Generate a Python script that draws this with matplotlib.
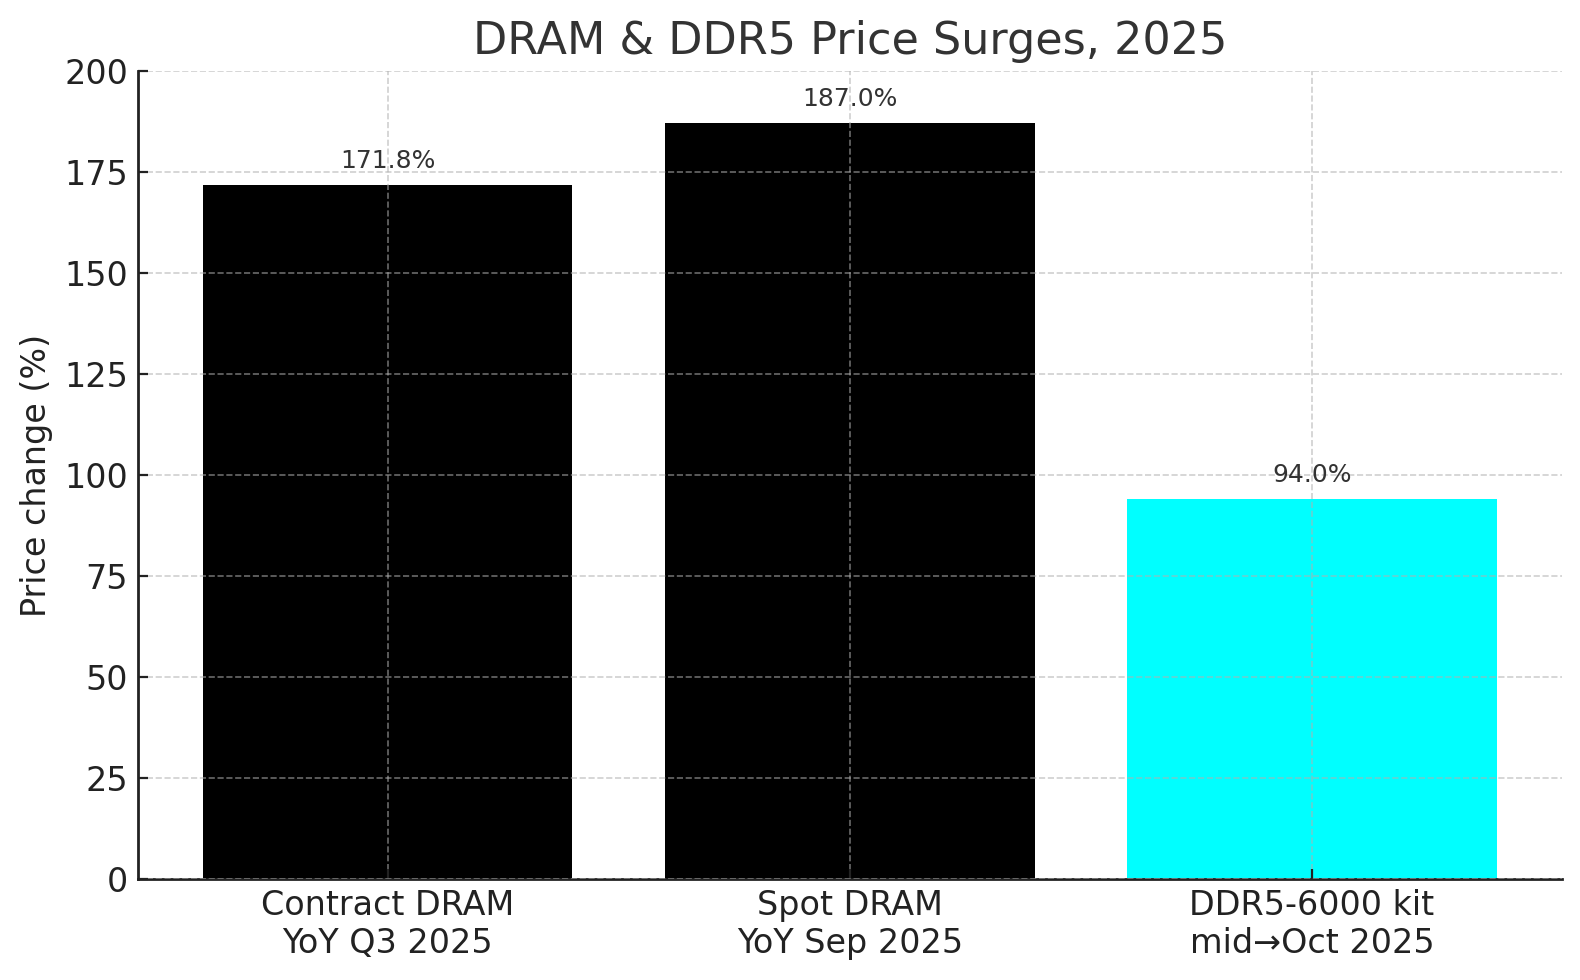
import matplotlib
matplotlib.use("Agg")
import matplotlib.pyplot as plt

categories = ["Contract DRAM\nYoY Q3 2025", "Spot DRAM\nYoY Sep 2025", "DDR5-6000 kit\nmid\u2192Oct 2025"]
values = [171.8, 187.0, 94.0]
colors = ["#000000", "#000000", "#00ffff"]
yticks = [0, 25, 50, 75, 100, 125, 150, 175, 200]

plt.rcParams['font.family'] = ['DejaVu Sans']
fig = plt.figure(figsize=(7.9, 4.9), dpi=200)
ax = fig.add_axes([0.0873, 0.1031, 0.901, 0.8245])

x = list(range(len(categories)))
ax.bar(x, values, color=colors, width=0.8, zorder=1)
for xi, v in zip(x, values):
    ax.text(xi, v + 3, f"{v:.1f}%", ha="center", va="bottom", fontsize=9, color="#333333", zorder=3)

ax.set_xticks(x)
ax.set_xticklabels(categories, fontsize=12, color="#222222")
ax.set_yticks(yticks)
ax.set_yticklabels([str(t) for t in yticks], fontsize=12, color="#222222")
ax.set_ylim(0, 200)
ax.set_xlim(-0.54, 2.54)
ax.set_ylabel("Price change (%)", fontsize=12, color="#222222")
ax.set_title("DRAM & DDR5 Price Surges, 2025", fontsize=16, color="#333333", pad=6)

ax.set_axisbelow(False)
ax.grid(True, linestyle="--", color="#b0b0b0", alpha=0.6, linewidth=0.6)
ax.tick_params(direction="in", colors="#222222", labelcolor="#222222")
for s in ["top", "right"]:
    ax.spines[s].set_visible(False)
for s in ["left", "bottom"]:
    ax.spines[s].set_color("#222222")
    ax.spines[s].set_linewidth(1.0)

fig.savefig("out.png", dpi=200)
